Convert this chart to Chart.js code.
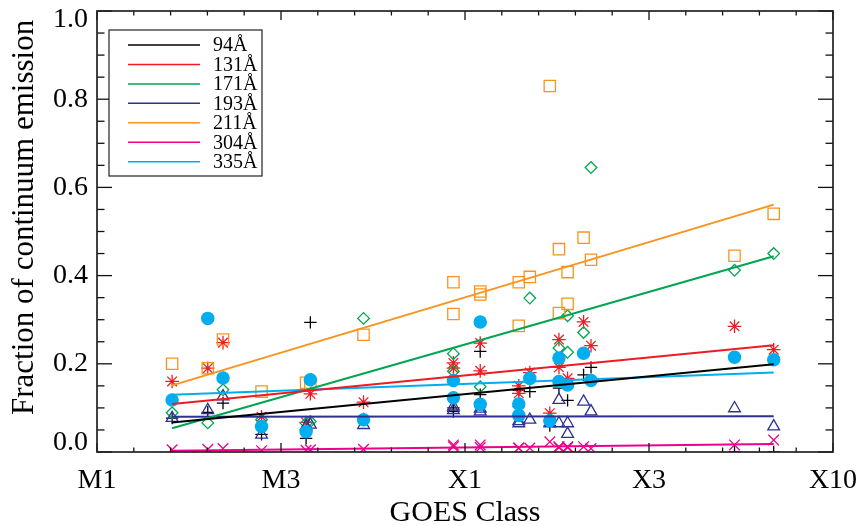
<!DOCTYPE html>
<html><head><meta charset="utf-8">
<script src="https://cdn.jsdelivr.net/npm/chart.js@4.4.1/dist/chart.umd.min.js"></script>
<style>html,body{margin:0;padding:0;background:#fff}canvas{display:block}</style>
</head><body>
<canvas id="c" width="861" height="526" style="width:861px;height:526px"></canvas>
<script>
// ---- data (GOES peak flux in W m^-2 per flare, fraction of continuum emission per AIA channel) ----
const flareFlux = [1.6e-5, 2.0e-5, 2.2e-5, 2.8e-5, 3.7e-5, 3.8e-5, 5.3e-5, 9.3e-5, 9.3e-5, 1.1e-4, 1.1e-4, 1.4e-4,
                   1.4e-4, 1.5e-4, 1.7e-4, 1.8e-4, 1.8e-4, 1.9e-4, 1.9e-4, 2.1e-4, 2.2e-4, 5.4e-4, 6.9e-4];
const wavelengths = ['94Å', '131Å', '171Å', '193Å', '211Å', '304Å', '335Å'];
const frac94  = [0.077, 0.090, 0.111, 0.040, 0.031, 0.294, 0.075, 0.092, 0.100, 0.228, 0.130, 0.140,
                 0.103, 0.137, 0.060, 0.145, null, 0.117, null, 0.175, 0.192, 0.000, 0.000];
const frac131 = [0.160, 0.190, 0.248, 0.080, 0.067, 0.132, 0.113, 0.202, 0.190, 0.247, 0.184, 0.150,
                 0.133, 0.180, 0.088, 0.255, 0.192, 0.167, null, 0.295, 0.241, 0.285, 0.232];
const frac171 = [0.089, 0.066, 0.141, 0.073, 0.065, 0.069, 0.303, 0.223, 0.183, 0.148, null, null,
                 null, 0.349, null, 0.236, null, 0.309, 0.226, 0.271, 0.645, 0.412, 0.450];
const frac193 = [0.077, 0.095, 0.126, 0.039, 0.058, 0.062, 0.061, 0.103, 0.095, 0.092, 0.098, 0.065,
                 0.070, 0.073, 0.065, 0.118, 0.065, 0.065, 0.041, 0.114, 0.092, 0.099, 0.058];
const frac211 = [0.200, 0.190, 0.255, 0.137, 0.157, 0.155, 0.266, 0.385, 0.313, 0.364, 0.357, 0.286,
                 0.385, 0.397, 0.830, 0.460, 0.315, 0.408, 0.336, 0.486, 0.436, 0.445, 0.540];
const frac304 = [0.005, 0.006, 0.008, 0.003, 0.004, 0.005, 0.006, 0.016, 0.012, 0.016, 0.010, 0.009,
                 0.009, 0.009, 0.023, 0.012, 0.010, 0.010, 0.012, 0.012, 0.008, 0.016, 0.027];
const frac335 = [0.118, 0.303, 0.168, 0.058, 0.046, 0.164, 0.073, 0.162, 0.123, 0.295, 0.108, 0.109,
                 0.083, 0.167, 0.071, 0.213, 0.160, 0.152, null, 0.224, 0.162, 0.215, 0.209];
// linear fits: value at first and last flare flux
const fitFlux = [1.6e-5, 6.9e-4];
const fit94  = [0.067, 0.199];
const fit131 = [0.109, 0.242];
const fit171 = [0.054, 0.444];
const fit193 = [0.080, 0.081];
const fit211 = [0.151, 0.561];
const fit304 = [0.003, 0.018];
const fit335 = [0.130, 0.180];
// axis ticks
const xTickLog = [-5, -4.5, -4, -3.5, -3];
const xTickLabels = ['M1', 'M3', 'X1', 'X3', 'X10'];
const yTicks = [0.0, 0.2, 0.4, 0.6, 0.8, 1.0];

// ---- styling ----
const FONT = "'Liberation Serif', 'Times New Roman', serif";
const colors = ['#000000', '#ed1c24', '#00a651', '#2e3192', '#f7941d', '#ec008c', '#00aeef'];
const series = [frac94, frac131, frac171, frac193, frac211, frac304, frac335];
const fits = [fit94, fit131, fit171, fit193, fit211, fit304, fit335];
const styles = [
  {pointStyle: 'cross', radius: 6.2, fill: false},
  {pointStyle: 'star', radius: 6.8, fill: false},
  {pointStyle: 'rectRot', radius: 5.8, fill: false},
  {pointStyle: 'triangle', radius: 6.8, fill: false},
  {pointStyle: 'rect', radius: 8, fill: false},
  {pointStyle: 'crossRot', radius: 7.5, fill: false},
  {pointStyle: 'circle', radius: 6.1, fill: true}
];

const datasets = [];
// fit lines (drawn on top)
fits.forEach((f, i) => {
  datasets.push({
    label: wavelengths[i], order: 0,
    data: fitFlux.map((fx, k) => ({x: Math.log10(fx), y: f[k]})),
    showLine: true, borderColor: colors[i], borderWidth: 2, pointRadius: 0, pointHoverRadius: 0
  });
});
// scatter points: circles on top
for (let i = series.length - 1; i >= 0; i--) {
  const s = styles[i];
  datasets.push({
    label: wavelengths[i] + ' pts', order: 1,
    data: flareFlux.map((fx, k) => series[i][k] === null ? null : ({x: Math.log10(fx), y: series[i][k]})).filter(p => p),
    showLine: false, pointStyle: s.pointStyle, pointRadius: s.radius, pointHoverRadius: s.radius,
    borderColor: colors[i], backgroundColor: s.fill ? colors[i] : 'rgba(0,0,0,0)', borderWidth: 1.3
  });
}

function isNear(v, arr) { return arr.findIndex(t => Math.abs(t - v) < 1e-6); }

const framePlugin = {
  id: 'frame',
  afterDraw(chart) {
    const {ctx, chartArea: a, scales: {x, y}} = chart;
    ctx.save();
    const seg = (x1, y1, x2, y2) => { ctx.beginPath(); ctx.moveTo(x1, y1); ctx.lineTo(x2, y2); ctx.stroke(); };
    ctx.strokeStyle = '#111'; ctx.lineWidth = 1.3;
    for (let k = 0; k <= 20; k++) {
      const v = -5 + k * 0.1, px = x.getPixelForValue(v);
      const L = (k % 5 === 0) ? 9 : 4.5;
      seg(px, a.bottom, px, a.bottom - L); seg(px, a.top, px, a.top + L);
    }
    for (let k = 0; k <= 20; k++) {
      const v = k * 0.05, py = y.getPixelForValue(v);
      const L = (k % 4 === 0) ? 15 : 7.5;
      seg(a.left, py, a.left + L, py); seg(a.right, py, a.right - L, py);
    }
    ctx.strokeStyle = '#222'; ctx.lineWidth = 1.7;
    ctx.strokeRect(a.left, a.top, a.right - a.left, a.bottom - a.top);
    // axis titles
    ctx.fillStyle = '#000';
    ctx.font = '30px ' + FONT;
    ctx.textAlign = 'center'; ctx.textBaseline = 'alphabetic';
    ctx.fillText('GOES Class', (a.left + a.right) / 2, 521);
    ctx.save();
    ctx.font = '31px ' + FONT;
    ctx.translate(33, 415); ctx.rotate(-Math.PI / 2);
    ctx.textAlign = 'left';
    ctx.fillText('Fraction of continuum emission', 0, 0);
    ctx.restore();
    // legend
    const bx = a.left + 12, by = a.top + 19, bw = 153, bh = 146;
    ctx.fillStyle = '#fff'; ctx.fillRect(bx, by, bw, bh);
    ctx.strokeStyle = '#222'; ctx.lineWidth = 1.2; ctx.strokeRect(bx, by, bw, bh);
    ctx.font = '20px ' + FONT; ctx.textAlign = 'left'; ctx.textBaseline = 'middle';
    wavelengths.forEach((w, i) => {
      const ly = by + 15 + i * 19.45;
      ctx.strokeStyle = colors[i]; ctx.lineWidth = 1.5;
      seg(bx + 19, ly, bx + 91, ly);
      ctx.fillStyle = '#000';
      ctx.fillText(w, bx + 104, ly + 1);
    });
    ctx.restore();
  }
};

Chart.defaults.font.family = FONT;
Chart.defaults.color = '#000';

new Chart(document.getElementById('c'), {
  type: 'scatter',
  data: {datasets},
  options: {
    responsive: false, animation: false,
    layout: {padding: {left: 0, top: 11, right: 28, bottom: 0}},
    plugins: {legend: {display: false}, tooltip: {enabled: false}},
    scales: {
      x: {
        type: 'linear', min: -5, max: -3,
        grid: {display: false, drawTicks: false},
        border: {display: false},
        ticks: {
          stepSize: 0.1, autoSkip: false, maxRotation: 0, padding: 12,
          font: {size: 28, family: FONT}, color: '#000',
          callback: v => { const i = isNear(v, xTickLog); return i >= 0 ? xTickLabels[i] : ''; }
        },
        afterFit: s => { s.height = 74; s.paddingLeft = 0; s.paddingRight = 0; }
      },
      y: {
        type: 'linear', min: 0, max: 1,
        grid: {display: false, drawTicks: false},
        border: {display: false},
        ticks: {
          stepSize: 0.05, autoSkip: false, padding: 9,
          font: {size: 28, family: FONT, lineHeight: 0.65}, color: '#000',
          callback: v => {
            const i = isNear(v, yTicks);
            if (i < 0) return '';
            const t = yTicks[i].toFixed(1);
            if (i === yTicks.length - 1) return ['', t];
            if (i === 0) return [t, ''];
            return t;
          }
        },
        afterFit: s => { s.width = 97; s.paddingTop = 0; s.paddingBottom = 0; }
      }
    }
  },
  plugins: [framePlugin]
});
</script>
</body></html>
